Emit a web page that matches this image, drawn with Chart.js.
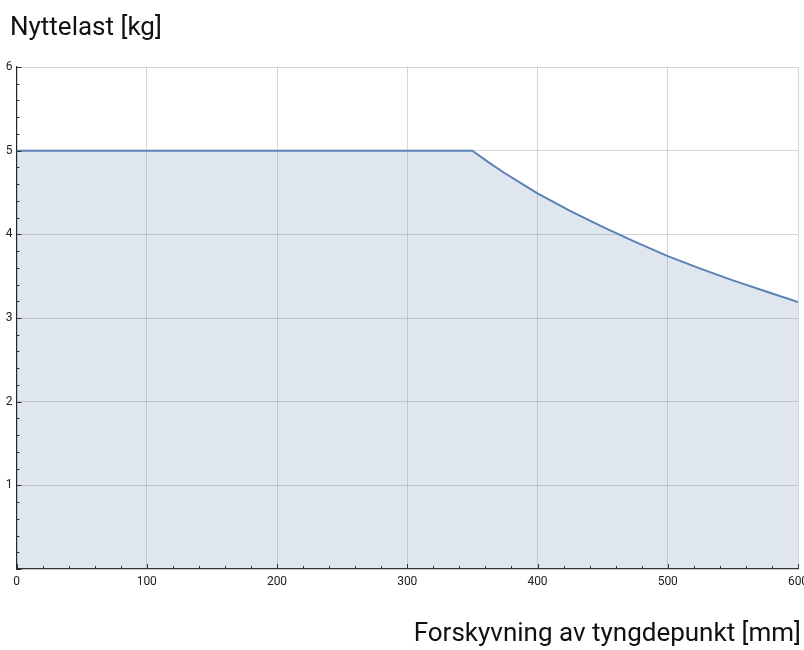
<!DOCTYPE html>
<html>
<head>
<meta charset="utf-8">
<script src="https://cdn.jsdelivr.net/npm/chart.js@4/dist/chart.umd.min.js"></script>
<style>
  html, body { margin: 0; padding: 0; background: #fff; }
  #wrap { width: 804px; height: 650px; }
</style>
</head>
<body>
<div id="wrap"><canvas id="c"></canvas></div>
<script>
// offset of centre of gravity [mm] and payload [kg]
const offsetMm = [0, 350, 362.5, 375, 387.5, 400, 425, 450, 475, 500, 525, 550, 575, 600];
const payloadKg = [5, 5, 4.86, 4.73, 4.61, 4.49, 4.28, 4.09, 3.91, 3.74, 3.59, 3.45, 3.32, 3.19];

const xTitle = 'Forskyvning av tyngdepunkt [mm]';
const yTitle = 'Nyttelast [kg]';

const lineColor = '#5e81b5';
const fillColor = 'rgba(94,129,181,0.2)';
const gridColor = 'rgba(0,0,0,0.16)';
const fontFamily = 'Roboto, "Liberation Sans", Arial, sans-serif';

const points = offsetMm.map((x, i) => ({ x: x, y: payloadKg[i] }));

// inward tick marks on both axes, plus the two axis titles
const axisDecor = {
  id: 'axisDecor',
  afterDraw(chart) {
    const ctx = chart.ctx;
    const xs = chart.scales.x, ys = chart.scales.y;
    const area = chart.chartArea;
    ctx.save();
    ctx.strokeStyle = '#333';
    ctx.lineWidth = 1;
    ctx.beginPath();
    xs.ticks.forEach(t => {
      const px = Math.round(xs.getPixelForValue(t.value)) + 0.5;
      const len = t.value % 100 === 0 ? 5 : 3;
      ctx.moveTo(px, area.bottom);
      ctx.lineTo(px, area.bottom - len);
    });
    ys.ticks.forEach(t => {
      const py = Math.round(ys.getPixelForValue(t.value)) + 0.5;
      const major = Math.abs(t.value - Math.round(t.value)) < 1e-6;
      const len = major ? 5 : 3;
      ctx.moveTo(area.left, py);
      ctx.lineTo(area.left + len, py);
    });
    ctx.stroke();

    ctx.fillStyle = '#111';
    ctx.font = '26px ' + fontFamily;
    ctx.textBaseline = 'middle';
    ctx.textAlign = 'left';
    ctx.fillText(yTitle, 10, 28);
    ctx.textAlign = 'right';
    ctx.fillText(xTitle, 801, 634);
    ctx.restore();
  }
};

new Chart(document.getElementById('c'), {
  type: 'line',
  data: {
    datasets: [{
      data: points,
      borderColor: lineColor,
      borderWidth: 2,
      backgroundColor: fillColor,
      fill: 'origin',
      pointRadius: 0,
      tension: 0
    }]
  },
  options: {
    responsive: true,
    maintainAspectRatio: false,
    animation: false,
    layout: { padding: { top: 67, right: 6, left: 0, bottom: 0 } },
    plugins: {
      legend: { display: false },
      tooltip: { enabled: false }
    },
    scales: {
      x: {
        type: 'linear',
        min: 0,
        max: 600,
        ticks: {
          stepSize: 20,
          autoSkip: false,
          maxRotation: 0,
          padding: 6,
          color: '#222',
          font: { size: 12, family: fontFamily },
          callback: v => (v % 100 === 0 ? v : '')
        },
        grid: {
          drawTicks: false,
          color: c => (c.tick && c.tick.value % 100 === 0 && c.tick.value !== 0 ? gridColor : 'transparent')
        },
        border: { color: '#222', width: 1.2 },
        afterFit: s => { s.height = 81; s.paddingLeft = 0; s.paddingRight = 0; }
      },
      y: {
        min: 0,
        max: 6,
        ticks: {
          stepSize: 0.2,
          autoSkip: false,
          padding: 4,
          color: '#222',
          font: { size: 12, family: fontFamily },
          callback: v => {
            const r = Math.round(v);
            return Math.abs(v - r) < 1e-6 && r !== 0 ? r : '';
          }
        },
        grid: {
          drawTicks: false,
          color: c => {
            const v = c.tick ? c.tick.value : 0;
            const r = Math.round(v);
            return Math.abs(v - r) < 1e-6 && r !== 0 ? gridColor : 'transparent';
          }
        },
        border: { color: '#222', width: 1.2 },
        afterFit: s => { s.width = 16.5; }
      }
    }
  },
  plugins: [axisDecor]
});
</script>
</body>
</html>
